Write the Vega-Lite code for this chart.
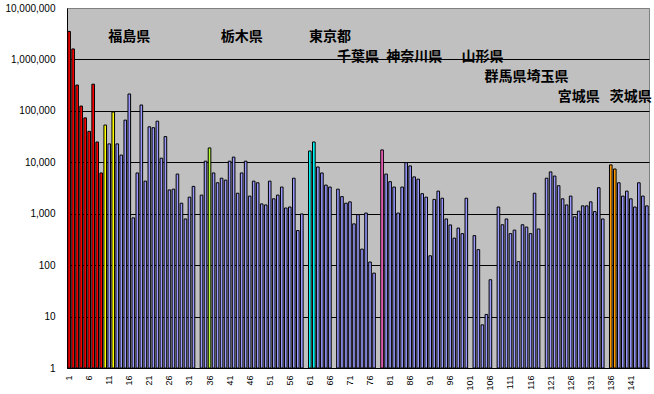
{
  "$schema": "https://vega.github.io/schema/vega-lite/v6.json",
  "width": 582,
  "height": 360,
  "autosize": {"type": "none"},
  "padding": {"left": 67, "top": 8, "right": 5, "bottom": 26},
  "background": "white",
  "view": {"fill": "#C0C0C0", "stroke": "#808080", "strokeWidth": 1},
  "config": {"view": {"fill": "#C0C0C0", "stroke": "#808080", "strokeWidth": 1}, "font": "Liberation Sans"},
  "datasets": {
    "bars": [
      {"i":1,"v":3500000,"g":"A"},{"i":2,"v":1600000,"g":"A"},{"i":3,"v":318000,"g":"A"},{"i":4,"v":124000,"g":"A"},{"i":5,"v":73000,"g":"A"},
      {"i":6,"v":40000,"g":"A"},{"i":7,"v":330000,"g":"A"},{"i":8,"v":24800,"g":"A"},{"i":9,"v":6200,"g":"A"},{"i":10,"v":53000,"g":"B"},
      {"i":11,"v":22800,"g":"C"},{"i":12,"v":95000,"g":"B"},{"i":13,"v":22800,"g":"C"},{"i":14,"v":13800,"g":"C"},{"i":15,"v":66000,"g":"C"},
      {"i":16,"v":213000,"g":"C"},{"i":17,"v":830,"g":"C"},{"i":18,"v":6200,"g":"C"},{"i":19,"v":130000,"g":"C"},{"i":20,"v":4300,"g":"C"},
      {"i":21,"v":49000,"g":"C"},{"i":22,"v":47000,"g":"C"},{"i":23,"v":63000,"g":"C"},{"i":24,"v":12000,"g":"C"},{"i":25,"v":31600,"g":"C"},
      {"i":26,"v":2900,"g":"C"},{"i":27,"v":3000,"g":"C"},{"i":28,"v":5900,"g":"C"},{"i":29,"v":1600,"g":"C"},{"i":30,"v":790,"g":"C"},
      {"i":31,"v":2100,"g":"C"},{"i":32,"v":3400,"g":"C"},{"i":34,"v":2300,"g":"C"},{"i":35,"v":10500,"g":"C"},
      {"i":36,"v":19000,"g":"D"},{"i":37,"v":6200,"g":"C"},{"i":38,"v":4000,"g":"C"},{"i":39,"v":4900,"g":"C"},{"i":40,"v":4500,"g":"C"},
      {"i":41,"v":10500,"g":"C"},{"i":42,"v":12600,"g":"C"},{"i":43,"v":2500,"g":"C"},{"i":44,"v":6200,"g":"C"},{"i":45,"v":10500,"g":"C"},
      {"i":46,"v":2200,"g":"C"},{"i":47,"v":4300,"g":"C"},{"i":48,"v":4000,"g":"C"},{"i":49,"v":1550,"g":"C"},{"i":50,"v":1480,"g":"C"},
      {"i":51,"v":4300,"g":"C"},{"i":52,"v":1950,"g":"C"},{"i":53,"v":2300,"g":"C"},{"i":54,"v":3300,"g":"C"},{"i":55,"v":1290,"g":"C"},
      {"i":56,"v":1350,"g":"C"},{"i":57,"v":4900,"g":"C"},{"i":58,"v":470,"g":"C"},{"i":59,"v":990,"g":"C"},
      {"i":61,"v":16600,"g":"E"},{"i":62,"v":24800,"g":"E"},{"i":63,"v":8100,"g":"C"},{"i":64,"v":6200,"g":"C"},{"i":65,"v":3600,"g":"C"},
      {"i":66,"v":3300,"g":"C"},{"i":68,"v":3000,"g":"C"},{"i":69,"v":2150,"g":"C"},{"i":70,"v":1600,"g":"C"},
      {"i":71,"v":1700,"g":"C"},{"i":72,"v":635,"g":"C"},{"i":73,"v":960,"g":"C"},{"i":74,"v":205,"g":"C"},{"i":75,"v":1030,"g":"C"},
      {"i":76,"v":115,"g":"C"},{"i":77,"v":70,"g":"C"},{"i":79,"v":17400,"g":"F"},{"i":80,"v":5900,"g":"C"},
      {"i":81,"v":4200,"g":"C"},{"i":82,"v":3300,"g":"C"},{"i":83,"v":1030,"g":"C"},{"i":84,"v":3300,"g":"C"},{"i":85,"v":9800,"g":"C"},
      {"i":86,"v":8500,"g":"C"},{"i":87,"v":5200,"g":"C"},{"i":88,"v":4700,"g":"C"},{"i":89,"v":2450,"g":"C"},{"i":90,"v":2100,"g":"C"},
      {"i":91,"v":152,"g":"C"},{"i":92,"v":1900,"g":"C"},{"i":93,"v":2750,"g":"C"},{"i":94,"v":2000,"g":"C"},{"i":95,"v":790,"g":"C"},
      {"i":96,"v":605,"g":"C"},{"i":97,"v":335,"g":"C"},{"i":98,"v":525,"g":"C"},{"i":99,"v":410,"g":"C"},{"i":100,"v":2000,"g":"C"},
      {"i":102,"v":375,"g":"C"},{"i":103,"v":200,"g":"C"},{"i":104,"v":6.9,"g":"C"},{"i":105,"v":11,"g":"C"},
      {"i":106,"v":52,"g":"C"},{"i":108,"v":1350,"g":"C"},{"i":109,"v":610,"g":"C"},{"i":110,"v":790,"g":"C"},
      {"i":111,"v":410,"g":"C"},{"i":112,"v":480,"g":"C"},{"i":113,"v":117,"g":"C"},{"i":114,"v":610,"g":"C"},{"i":115,"v":550,"g":"C"},
      {"i":116,"v":410,"g":"C"},{"i":117,"v":2500,"g":"C"},{"i":118,"v":505,"g":"C"},{"i":120,"v":4900,"g":"C"},
      {"i":121,"v":6500,"g":"C"},{"i":122,"v":5400,"g":"C"},{"i":123,"v":3500,"g":"C"},{"i":124,"v":1950,"g":"C"},{"i":125,"v":1480,"g":"C"},
      {"i":126,"v":2200,"g":"C"},{"i":127,"v":870,"g":"C"},{"i":128,"v":1120,"g":"C"},{"i":129,"v":1420,"g":"C"},{"i":130,"v":1420,"g":"C"},
      {"i":131,"v":1700,"g":"C"},{"i":132,"v":1100,"g":"C"},{"i":133,"v":3200,"g":"C"},{"i":134,"v":790,"g":"C"},
      {"i":136,"v":8900,"g":"G"},{"i":137,"v":7400,"g":"G"},{"i":138,"v":4000,"g":"C"},{"i":139,"v":2200,"g":"C"},{"i":140,"v":2750,"g":"C"},
      {"i":141,"v":1950,"g":"C"},{"i":142,"v":1350,"g":"C"},{"i":143,"v":4000,"g":"C"},{"i":144,"v":2200,"g":"C"},{"i":145,"v":1420,"g":"C"}
    ],
    "labels": [
      {"label":"福島県","i":16,"v":2680000},
      {"label":"栃木県","i":44,"v":2680000},
      {"label":"東京都","i":66,"v":2680000},
      {"label":"千葉県","i":73,"v":1100000},
      {"label":"神奈川県","i":87,"v":1100000},
      {"label":"山形県","i":104,"v":1100000},
      {"label":"群馬県埼玉県","i":115,"v":455000},
      {"label":"宮城県","i":128,"v":186000},
      {"label":"茨城県","i":141,"v":186000}
    ]
  },
  "layer": [
    {
      "data": {"name": "bars"},
      "mark": {"type": "bar", "stroke": "black", "strokeWidth": 1},
      "encoding": {
        "x": {
          "field": "i", "type": "ordinal",
          "scale": {"domain": [1,2,3,4,5,6,7,8,9,10,11,12,13,14,15,16,17,18,19,20,21,22,23,24,25,26,27,28,29,30,31,32,33,34,35,36,37,38,39,40,41,42,43,44,45,46,47,48,49,50,51,52,53,54,55,56,57,58,59,60,61,62,63,64,65,66,67,68,69,70,71,72,73,74,75,76,77,78,79,80,81,82,83,84,85,86,87,88,89,90,91,92,93,94,95,96,97,98,99,100,101,102,103,104,105,106,107,108,109,110,111,112,113,114,115,116,117,118,119,120,121,122,123,124,125,126,127,128,129,130,131,132,133,134,135,136,137,138,139,140,141,142,143,144,145], "paddingInner": 0.35, "paddingOuter": 0.2},
          "axis": {"title": null, "labelAngle": -90, "labelAlign": "right", "labelBaseline": "middle", "labelExpr": "(datum.value - 1) % 5 == 0 ? datum.label : ''", "labelOverlap": false, "ticks": false, "labelPadding": 7, "labelFontSize": 9, "labelColor": "black", "domainColor": "black", "grid": false}
        },
        "y": {
          "field": "v", "type": "quantitative",
          "scale": {"type": "log", "domain": [1, 10000000]},
          "axis": {"title": null, "values": [1,10,100,1000,10000,100000,1000000,10000000], "format": ",", "ticks": false, "labelPadding": 12, "labelFontSize": 10, "labelColor": "black", "domainColor": "black", "grid": true, "gridColor": {"condition": {"test": "datum.value >= 10000000", "value": "#808080"}, "value": "black"}, "gridOpacity": 1, "gridWidth": 1}
        },
        "y2": {"datum": 1},
        "color": {
          "field": "g", "type": "nominal",
          "scale": {"domain": ["A","B","C","D","E","F","G"], "range": ["#FF0000","#FFFF00","#9999FF","#B3FF33","#00FFFF","#FF66CC","#FF9900"]},
          "legend": null
        }
      }
    },
    {
      "data": {"name": "labels"},
      "mark": {"type": "text", "font": "Noto Sans CJK JP", "fontWeight": "bold", "fontSize": 14, "baseline": "middle", "align": "center", "color": "black"},
      "encoding": {
        "x": {"field": "i", "type": "ordinal"},
        "y": {"field": "v", "type": "quantitative"},
        "text": {"field": "label"}
      }
    }
  ]
}
